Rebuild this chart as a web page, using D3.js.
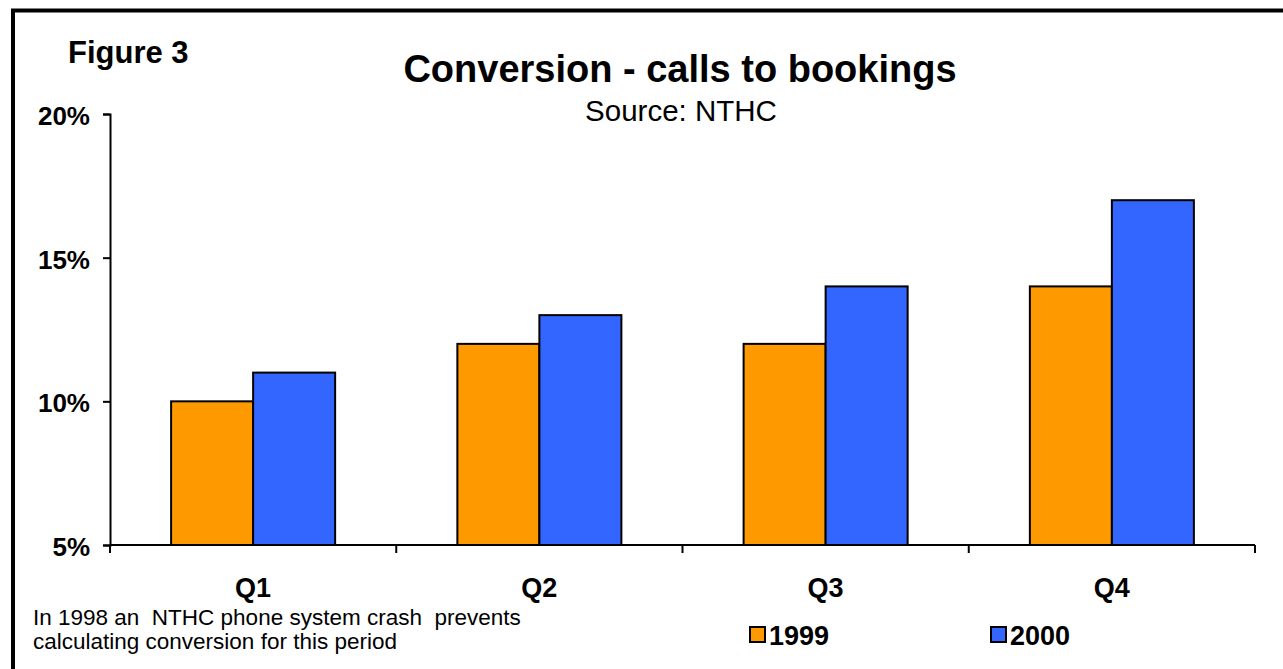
<!DOCTYPE html>
<html>
<head>
<meta charset="utf-8">
<script src="https://cdn.jsdelivr.net/npm/d3@7"></script>
<style>
  html, body { margin: 0; padding: 0; background: #fff; }
  svg { display: block; font-family: "Liberation Sans", Arial, sans-serif; }
</style>
</head>
<body>
<svg id="chart" width="1283" height="669"></svg>
<script>
// Quarterly conversion rate, calls to bookings (%)
const quarters = ["Q1", "Q2", "Q3", "Q4"];
const seriesNames = ["1999", "2000"];
const values1999 = [10, 12, 12, 14];
const values2000 = [11, 13, 14, 17];
const yTicks = [5, 10, 15, 20];
const colors = ["#FF9900", "#3366FF"];

const series = [values1999, values2000];

const svg = d3.select("#chart");

// Outer frame (open at right and bottom, running past the page edge)
svg.append("rect")
  .attr("x", 13).attr("y", 10.5)
  .attr("width", 1400).attr("height", 800)
  .attr("fill", "none").attr("stroke", "#000").attr("stroke-width", 4);

const plotLeft = 110, plotRight = 1255, plotTop = 114, plotBottom = 545;

const x0 = d3.scaleBand().domain(quarters).range([plotLeft, plotRight]).padding(0);
const groupFrac = 0.573;
const groupW = x0.bandwidth() * groupFrac;
const x1 = d3.scaleBand().domain(seriesNames).range([0, groupW]).padding(0);
const y = d3.scaleLinear().domain([5, 20]).range([plotBottom, plotTop]);

// Bars
const groups = svg.append("g").selectAll("g")
  .data(quarters)
  .join("g")
  .attr("transform", q => `translate(${x0(q) + (x0.bandwidth() - groupW) / 2},0)`);

groups.selectAll("rect")
  .data((q, i) => seriesNames.map((s, j) => ({ s, j, v: series[j][i] })))
  .join("rect")
  .attr("x", d => x1(d.s))
  .attr("y", d => y(d.v))
  .attr("width", x1.bandwidth())
  .attr("height", d => y(5) - y(d.v))
  .attr("fill", d => colors[d.j])
  .attr("stroke", "#000")
  .attr("stroke-width", 2);

// Y axis
const yAxis = svg.append("g")
  .attr("transform", `translate(${plotLeft},0)`)
  .call(d3.axisLeft(y).tickValues(yTicks).tickFormat(d => d + "%").tickSizeInner(7).tickSizeOuter(7).tickPadding(13));
yAxis.select(".domain").attr("stroke-width", 2);
yAxis.selectAll(".tick line").attr("stroke-width", 2);
yAxis.selectAll("text")
  .attr("font-size", 26).attr("font-weight", "bold").attr("fill", "#000")
  .attr("dy", "0.4em")
  .attr("font-family", "Liberation Sans, Arial, sans-serif");

// X axis: tick marks between categories
const xAxis = svg.append("g")
  .attr("transform", `translate(0,${plotBottom})`);
xAxis.append("line")
  .attr("x1", plotLeft).attr("x2", plotRight).attr("y1", 0).attr("y2", 0)
  .attr("stroke", "#000").attr("stroke-width", 2);
const boundaries = quarters.map(q => x0(q)).concat([plotRight]);
xAxis.selectAll("line.tk")
  .data(boundaries)
  .join("line")
  .attr("class", "tk")
  .attr("x1", d => d).attr("x2", d => d)
  .attr("y1", 0).attr("y2", 8)
  .attr("stroke", "#000").attr("stroke-width", 2);
xAxis.selectAll("text")
  .data(quarters)
  .join("text")
  .attr("x", q => x0(q) + x0.bandwidth() / 2)
  .attr("y", 52)
  .attr("text-anchor", "middle")
  .attr("font-size", 27).attr("font-weight", "bold")
  .text(q => q);

// Titles
svg.append("text")
  .attr("x", 680).attr("y", 82)
  .attr("text-anchor", "middle")
  .attr("font-size", 38).attr("font-weight", "bold")
  .text("Conversion - calls to bookings");
svg.append("text")
  .attr("x", 681).attr("y", 121)
  .attr("text-anchor", "middle")
  .attr("font-size", 29.5)
  .text("Source: NTHC");
svg.append("text")
  .attr("x", 68).attr("y", 63)
  .attr("font-size", 31).attr("font-weight", "bold")
  .text("Figure 3");

// Note
const note = svg.append("text").attr("font-size", 22.5);
note.append("tspan").attr("x", 33).attr("y", 625)
  .text("In 1998 an\u00a0 NTHC phone system crash\u00a0 prevents");
note.append("tspan").attr("x", 33).attr("y", 649)
  .text("calculating conversion for this period");

// Legend
const legendX = [750, 991];
const legend = svg.append("g").selectAll("g")
  .data(seriesNames)
  .join("g")
  .attr("transform", (d, i) => `translate(${legendX[i]},627)`);
legend.append("rect")
  .attr("width", 15).attr("height", 15)
  .attr("fill", (d, i) => colors[i])
  .attr("stroke", "#000").attr("stroke-width", 2);
legend.append("text")
  .attr("x", 19).attr("y", 18)
  .attr("font-size", 27).attr("font-weight", "bold")
  .text(d => d);
</script>
</body>
</html>
